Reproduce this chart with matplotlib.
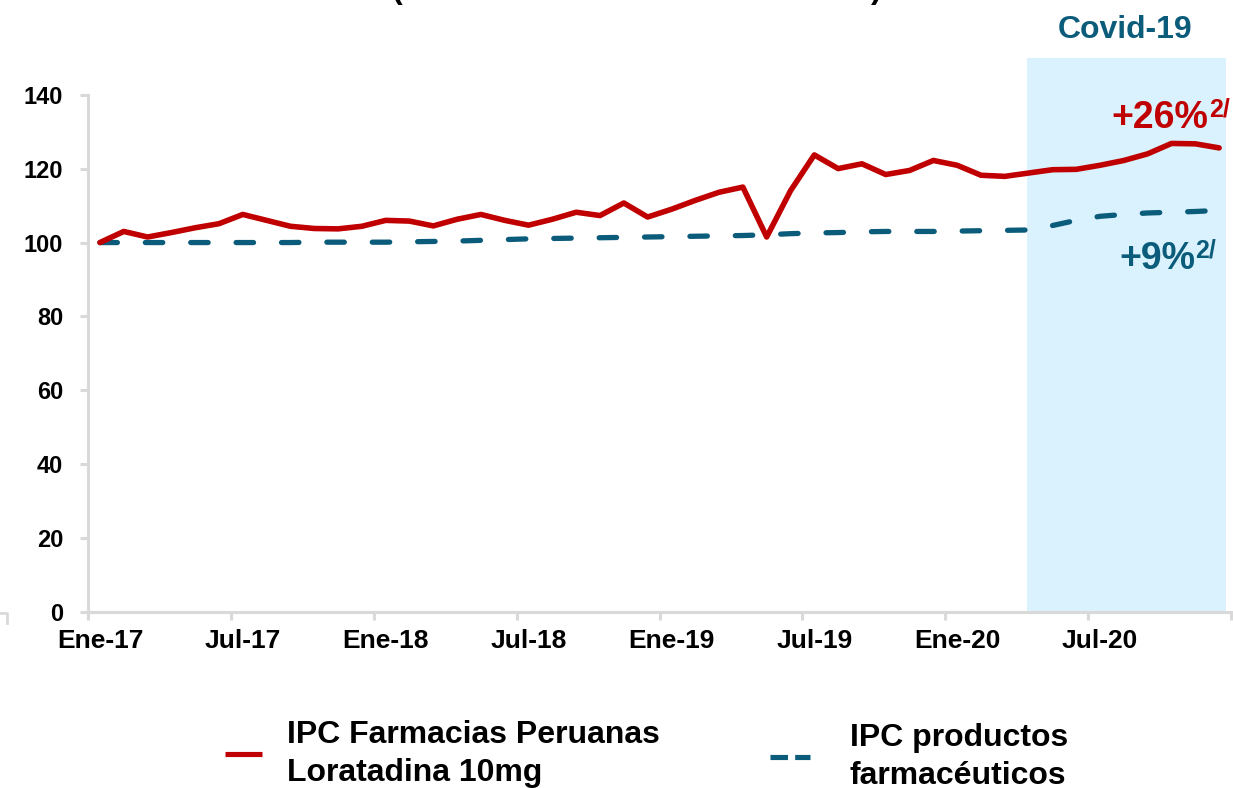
import matplotlib
matplotlib.use("Agg")
import matplotlib.pyplot as plt
from matplotlib.lines import Line2D

plt.rcParams["font.family"] = ["Liberation Sans", "DejaVu Sans"]
plt.rcParams["font.weight"] = "bold"

# indices mensuales, ene-2017 a dic-2020 (base ene-17 = 100)
ipc_loratadina = [
    100.0, 103.0, 101.5, 102.7, 104.0, 105.1, 107.6, 106.0, 104.4, 103.8, 103.7, 104.4,
    106.0, 105.8, 104.5, 106.3, 107.6, 106.0, 104.7, 106.3, 108.2, 107.3, 110.7, 106.9,
    109.0, 111.4, 113.6, 115.0, 101.5, 114.0, 123.7, 120.0, 121.3, 118.4, 119.5, 122.2,
    120.9, 118.2, 117.9, 118.8, 119.7, 119.8, 120.9, 122.2, 124.0, 126.8, 126.7, 125.6,
]
ipc_farmaceuticos = [
    100.0, 100.0, 100.0, 100.0, 100.0, 100.0, 100.0, 100.0, 100.0, 100.1, 100.1, 100.1,
    100.1, 100.2, 100.3, 100.4, 100.6, 100.8, 101.0, 101.1, 101.2, 101.3, 101.4, 101.5,
    101.6, 101.7, 101.8, 101.9, 102.1, 102.4, 102.6, 102.7, 102.9, 103.0, 103.0, 103.0,
    103.1, 103.2, 103.3, 103.4, 104.6, 106.0, 107.1, 107.6, 108.0, 108.2, 108.4, 108.7,
]
tick_labels = ["Ene-17", "Jul-17", "Ene-18", "Jul-18", "Ene-19", "Jul-19", "Ene-20", "Jul-20"]
covid_inicio, covid_fin = 39.45, 47.8

rojo = "#C00000"
azul = "#0B5C7A"
gris = "#D9D9D9"

fig = plt.figure(figsize=(12.33, 7.88), dpi=100)
ax = fig.add_axes([0.0714, 0.223, 0.9270, 0.7038])

# cada mes ocupa una casilla; el punto va al centro
x = [i + 0.5 for i in range(len(ipc_loratadina))]

ax.axvspan(covid_inicio, covid_fin, ymin=0, ymax=1, color="#DAF2FD", lw=0, zorder=0)
ax.plot(x, ipc_loratadina, color=rojo, lw=4.0, solid_capstyle="round",
        solid_joinstyle="round", zorder=3)
ax.plot(x, ipc_farmaceuticos, color=azul, lw=3.8, dashes=(3.3, 5.3),
        dash_capstyle="round", zorder=2)

ax.set_xlim(0, 48)
ax.set_ylim(0, 150)
# marcas cada 6 meses; la etiqueta va centrada en su mes
ax.set_xticks(range(0, 49, 6))
ax.set_xticklabels([])
ax.set_xticks([6 * k + 0.5 for k in range(len(tick_labels))], minor=True)
ax.set_xticklabels(tick_labels, minor=True)
ax.set_yticks(range(0, 141, 20))

for s in ["top", "right"]:
    ax.spines[s].set_visible(False)
for s in ["left", "bottom"]:
    ax.spines[s].set_color(gris)
    ax.spines[s].set_linewidth(2.2)
ax.spines["left"].set_bounds(0, 140)
ax.tick_params(axis="both", color=gris, width=2.2, length=6, labelcolor="black")
ax.tick_params(axis="y", labelsize=17, pad=12)
ax.tick_params(axis="x", which="minor", length=0, labelsize=19, pad=12)
for lbl in ax.get_xticklabels(minor=True) + ax.get_yticklabels():
    lbl.set_fontweight("bold")

# variaciones al final del periodo
t26 = ax.text(47.06, 133.6, "+26%", color=rojo, fontsize=27, fontweight="bold",
              ha="right", va="center")
ax.annotate("2/", xy=(1, 1), xycoords=t26, xytext=(0, 2), textcoords="offset points",
            color=rojo, fontsize=18, fontweight="bold", ha="left", va="top")
t9 = ax.text(46.5, 95.6, "+9%", color=azul, fontsize=27, fontweight="bold",
             ha="right", va="center")
ax.annotate("2/", xy=(1, 1), xycoords=t9, xytext=(0, 2), textcoords="offset points",
            color=azul, fontsize=18, fontweight="bold", ha="left", va="top")

fig.text(1125 / 1233, 1 - 30 / 788, "Covid-19", color=azul, fontsize=23,
         fontweight="bold", ha="center", va="center")

# restos del titulo, cortado arriba
fig.text(397 / 1233, 1 - 5 / 788, "(", fontsize=23, ha="center", va="bottom")
fig.text(876 / 1233, 1 - 5 / 788, ")", fontsize=23, ha="center", va="bottom")

# esquina de un recuadro cortado
fig.add_artist(Line2D([0, 7 / 1233, 7 / 1233], [1 - 613 / 788, 1 - 613 / 788, 1 - 623 / 788],
                      color=gris, lw=2, transform=fig.transFigure))

# leyenda
h_rojo = Line2D([], [], color=rojo, lw=3.7, solid_capstyle="butt")
h_azul = Line2D([], [], color=azul, lw=3.7, dashes=(3.4, 1.4), dash_capstyle="butt")
leg1 = fig.legend([h_rojo], ["IPC Farmacias Peruanas\nLoratadina 10mg"],
                  loc="center left", bbox_to_anchor=(225 / 1233, 1 - 754 / 788),
                  frameon=False, borderpad=0, borderaxespad=0, handlelength=1.15,
                  handletextpad=0.78, prop={"size": 23, "weight": "bold"})
leg2 = fig.legend([h_azul], ["IPC productos\nfarmacéuticos"],
                  loc="center left", bbox_to_anchor=(770 / 1233, 1 - 757 / 788),
                  frameon=False, borderpad=0, borderaxespad=0, handlelength=1.25,
                  handletextpad=1.25, prop={"size": 23, "weight": "bold"})
for leg in (leg1, leg2):
    for t in leg.get_texts():
        t.set_linespacing(1.35)

fig.savefig("out.png", dpi=100)
